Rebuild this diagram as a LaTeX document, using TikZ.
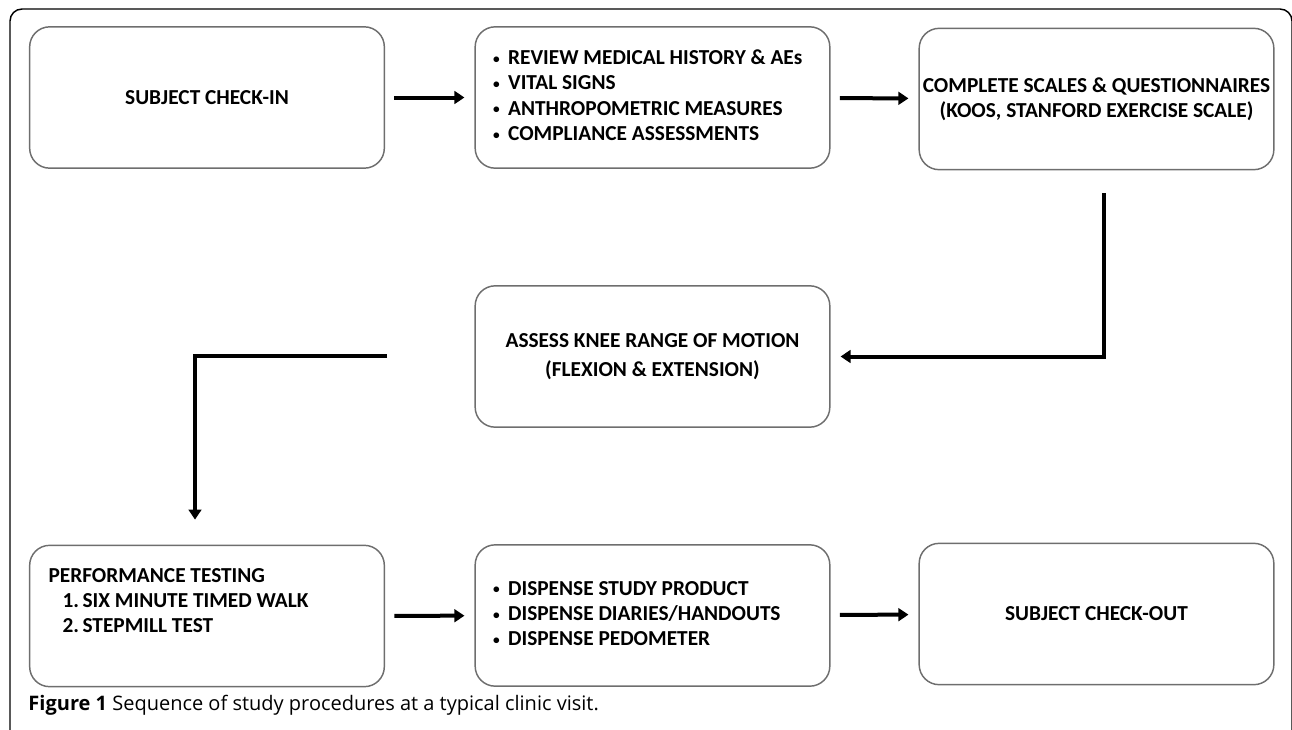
\documentclass[tikz,border=0pt]{standalone}
\usepackage{fontspec}
\usetikzlibrary{arrows.meta}
\newfontfamily\procfont{Carlito}
\newfontfamily\capfont{Open Sans}

\tikzset{every picture/.style={line width=0.75pt}}
\tikzset{
  procbox/.style={draw={rgb, 255:red, 110; green, 110; blue, 110 }, line width=1.1pt, rounded corners=15pt, minimum width=266pt, minimum height=106pt, inner sep=0pt, align=center, font=\procfont\bfseries\fontsize{16}{19}\selectfont},
  listbox/.style={procbox, text width=239pt, align=left, execute at begin node={\spaceskip=0pt\xspaceskip=0pt\relax}},
  flow/.style={line width=3pt, -{Triangle[length=7.5pt,width=9.5pt]}, shorten <=7pt, shorten >=7.5pt},
}
\newcommand{\itembul}{\makebox[11.25pt][l]{\fontsize{10}{10}\selectfont\raisebox{0.2ex}{•}}}

\begin{document}
\begin{tikzpicture}[x=0.75pt,y=0.75pt,yscale=-1,xscale=1]
	\useasboundingbox (0,0) rectangle (1292,729);

	%Shape: Frame
	\draw  [line width=1.1pt, rounded corners=9pt]  (10,740) -- (10,9) -- (1292,9) -- (1292,740) ;

	%Shape: Rounded Rect
	\draw (207,97.5) node [procbox] (checkin) {SUBJECT CHECK-IN};
	%Shape: Rounded Rect
	\draw (652.5,97.5) node [listbox] (review) {\begin{tabular}{@{}l@{}}\itembul REVIEW MEDICAL HISTORY \& AEs\\ \itembul VITAL SIGNS\\ \itembul ANTHROPOMETRIC MEASURES\\ \itembul COMPLIANCE ASSESSMENTS\end{tabular}};
	%Shape: Rounded Rect
	\draw (1096.5,99) node [procbox] (scales) {COMPLETE SCALES \& QUESTIONNAIRES\\ (KOOS, STANFORD EXERCISE SCALE)};
	%Shape: Rounded Rect
	\draw (652.5,356.5) node [procbox, font=\procfont\bfseries\fontsize{16}{21.5}\selectfont] (knee) {ASSESS KNEE RANGE OF MOTION\\ (FLEXION \& EXTENSION)};
	%Shape: Rounded Rect
	\draw (207,616) node [procbox] (perf) {};
	%Shape: Rounded Rect
	\draw (652.5,615.5) node [listbox] (dispense) {\begin{tabular}{@{}l@{}}\itembul DISPENSE STUDY PRODUCT\\ \itembul DISPENSE DIARIES/HANDOUTS\\ \itembul DISPENSE PEDOMETER\end{tabular}};
	%Shape: Rounded Rect
	\draw (1096.5,614) node [procbox] (checkout) {SUBJECT CHECK-OUT};

	% Text Node
	\draw (48,602.5) node [anchor=west, inner sep=0pt, font=\procfont\bfseries\fontsize{16}{19}\selectfont] (perftxt) {\begin{tabular}{@{}l@{}}PERFORMANCE TESTING\\ \hspace*{10.5pt}1.\,SIX MINUTE TIMED WALK\\ \hspace*{10.5pt}2.\,STEPMILL TEST\end{tabular}};

	%Straight Lines
	\draw [flow]  (checkin) -- (review) ;
	%Straight Lines
	\draw [flow]  (review) -- (scales) ;
	%Straight Lines
	\coordinate (rtop) at (1104,193);
	\draw [flow, shorten <=0pt]  (rtop) |- (knee.east) ;
	%Straight Lines
	\coordinate (lstart) at (387,356);
	\coordinate (lcorner) at (195,356);
	\draw [flow, shorten <=0pt, shorten >=18.75pt]  (lstart) -- (lcorner) -- (lcorner |- perf.north) ;
	%Straight Lines
	\draw [flow]  (perf) -- (dispense) ;
	%Straight Lines
	\draw [flow]  (dispense) -- (checkout) ;

	% Text Node
	\draw (28,705) node [anchor=west, inner sep=0pt, font=\capfont\fontsize{15}{18}\selectfont] (caption) {\textbf{Figure 1} Sequence of study procedures at a typical clinic visit.};

\end{tikzpicture}
\end{document}
